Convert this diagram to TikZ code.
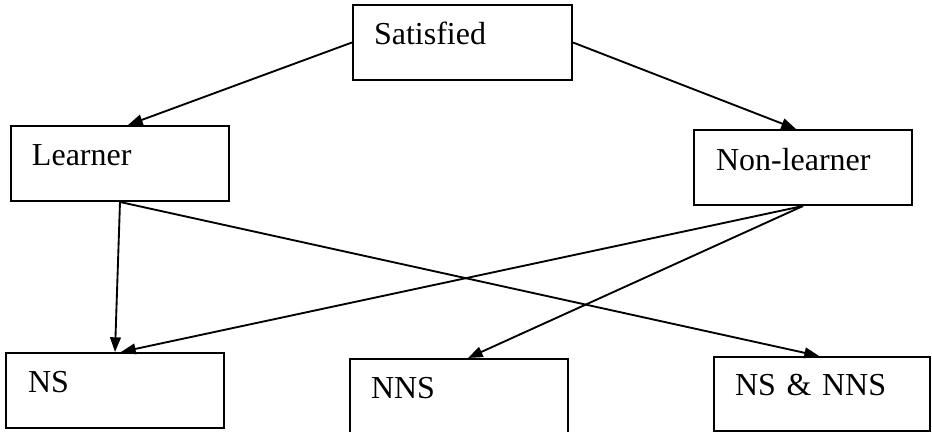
\documentclass[tikz,border=0pt]{standalone}
\usepackage{fontspec}
\setmainfont{Liberation Serif}
\usetikzlibrary{arrows.meta,positioning}

\newlength\pxu
\setlength\pxu{0.375pt}

\tikzset{
    box/.style={draw, line width=0.75pt, anchor=north west, align=left,
        inner ysep=0pt, text height=40\pxu, text depth=35\pxu,
        font=\fontsize{12}{14}\selectfont},
    link/.style={-{Triangle[length=5.5pt,width=4pt]}, line width=0.7pt}
}

\begin{document}
\begin{tikzpicture}[x=1\pxu, y=-1\pxu]
    \clip (0,0) rectangle (932,432);

    % Define nodes
    \node[box, inner xsep=21\pxu, text width=177\pxu, text depth=35\pxu] (sat) at (352,4) {Satisfied};
    \node[box, inner xsep=21\pxu, text width=176\pxu] (learner) at (10,125) {Learner};
    \node[box, inner xsep=22\pxu, text width=174\pxu, text height=41\pxu, text depth=34\pxu] (nonlearner) at (693,129) {Non-learner};
    \node[box, inner xsep=22\pxu, text width=174\pxu] (ns) at (5,352) {NS};
    \node[box, inner xsep=21\pxu, text width=176\pxu, text depth=40\pxu] (nns) at (349,358) {NNS};
    \node[box, inner xsep=21\pxu, text width=174\pxu, text height=39\pxu] (nsnns) at (713,356) {NS \& NNS};

    % Arrows from the top box
    \draw[link] (sat.west) -- ([xshift=8\pxu]learner.north);
    \draw[link] (sat.east) -- ([xshift=-7\pxu]nonlearner.north);

    % Arrows to the bottom row
    \draw[link] (learner.south) -- (ns.north);
    \draw[link] (learner.south) -- ([xshift=-3\pxu]nsnns.north);
    \draw[link] (nonlearner.south) -- ([xshift=6\pxu]ns.north);
    \draw[link] (nonlearner.south) -- ([xshift=9\pxu]nns.north);
\end{tikzpicture}
\end{document}
